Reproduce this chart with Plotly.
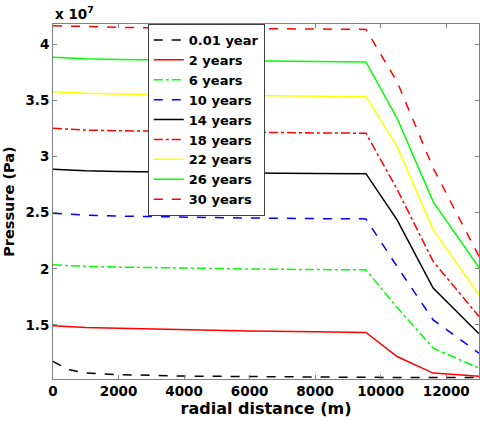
import plotly.graph_objects as go

# radial positions (m)
radial_distance = [0, 500, 1000, 2000, 4000, 6000, 8000, 9550, 10500, 11600, 13000]

# pressure profiles, in units of 1e7 Pa
p_001y = [1.172, 1.098, 1.069, 1.055, 1.042, 1.036, 1.033, 1.031, 1.030, 1.030, 1.030]
p_2y   = [1.491, 1.482, 1.476, 1.468, 1.455, 1.445, 1.437, 1.431, 1.217, 1.069, 1.040]
p_6y   = [2.035, 2.028, 2.022, 2.015, 2.005, 1.998, 1.993, 1.990, 1.654, 1.292, 1.113]
p_10y  = [2.496, 2.485, 2.478, 2.470, 2.460, 2.453, 2.448, 2.445, 2.020, 1.544, 1.246]
p_14y  = [2.889, 2.880, 2.874, 2.868, 2.860, 2.855, 2.851, 2.849, 2.436, 1.827, 1.420]
p_18y  = [3.254, 3.245, 3.238, 3.232, 3.224, 3.218, 3.213, 3.210, 2.710, 2.066, 1.574]
p_22y  = [3.580, 3.572, 3.566, 3.560, 3.552, 3.545, 3.540, 3.536, 3.090, 2.350, 1.767]
p_26y  = [3.888, 3.880, 3.874, 3.867, 3.860, 3.854, 3.849, 3.846, 3.343, 2.600, 2.010]
p_30y  = [4.170, 4.165, 4.160, 4.155, 4.148, 4.143, 4.139, 4.137, 3.670, 2.900, 2.110]

series_names = ["0.01 year", "2 years", "6 years", "10 years", "14 years",
                "18 years", "22 years", "26 years", "30 years"]
series_values = [p_001y, p_2y, p_6y, p_10y, p_14y, p_18y, p_22y, p_26y, p_30y]
series_colors = ["#000000", "#FF0000", "#00FF00", "#0000FF", "#000000",
                 "#FF0000", "#FFFF00", "#00FF00", "#FF0000"]
series_dashes = ["dash", "solid", "dashdot", "dash", "solid",
                 "dashdot", "solid", "solid", "dash"]

y_ticks = [1.5, 2, 2.5, 3, 3.5, 4]
y_ticklabels = ["1.5", "2", "2.5", "3", "3.5", "4"]
x_ticks = [0, 2000, 4000, 6000, 8000, 10000, 12000]
x_ticklabels = ["0", "2000", "4000", "6000", "8000", "10000", "12000"]

WIDE = "DejaVu Sans, Verdana, sans-serif"

fig = go.Figure()
for name, vals, col, dsh in zip(series_names, series_values, series_colors, series_dashes):
    fig.add_trace(go.Scatter(
        x=radial_distance, y=vals, mode="lines", name=name,
        line=dict(color=col, dash=dsh, width=1.5),
    ))

axis_common = dict(
    showline=True, linecolor="#808080", linewidth=1, mirror="ticks",
    ticks="inside", ticklen=4, tickcolor="#808080",
    showgrid=False, zeroline=False,
    tickfont=dict(family=WIDE, size=13.5, color="black", weight="bold"),
)

fig.update_layout(
    width=480, height=421,
    margin=dict(l=53, r=1, t=24, b=42),
    paper_bgcolor="white", plot_bgcolor="white",
    showlegend=True,
    legend=dict(
        x=0.2225, y=1.0, xanchor="left", yanchor="top",
        bgcolor="white", bordercolor="#404040", borderwidth=1,
        font=dict(family=WIDE, size=13, color="black", weight="bold"),
        tracegroupgap=0, itemwidth=30,
    ),
    xaxis=dict(
        range=[0, 13000], tickvals=x_ticks, ticktext=x_ticklabels,
        title=dict(text="radial distance (m)", standoff=2,
                   font=dict(family=WIDE, size=16, color="black", weight="bold")),
        **axis_common,
    ),
    yaxis=dict(
        range=[1.016, 4.185], tickvals=y_ticks, ticktext=y_ticklabels,
        title=dict(text="Pressure (Pa)", standoff=7,
                   font=dict(family=WIDE, size=14.5, color="black", weight="bold")),
        **axis_common,
    ),
    annotations=[dict(
        x=0, y=1.0, xref="paper", yref="paper", xanchor="left", yanchor="bottom",
        text="x 10<sup>7</sup>", showarrow=False, yshift=0,
        font=dict(family=WIDE, size=13.5, color="black", weight="bold"),
    )],
)

fig.write_html("out.html")
